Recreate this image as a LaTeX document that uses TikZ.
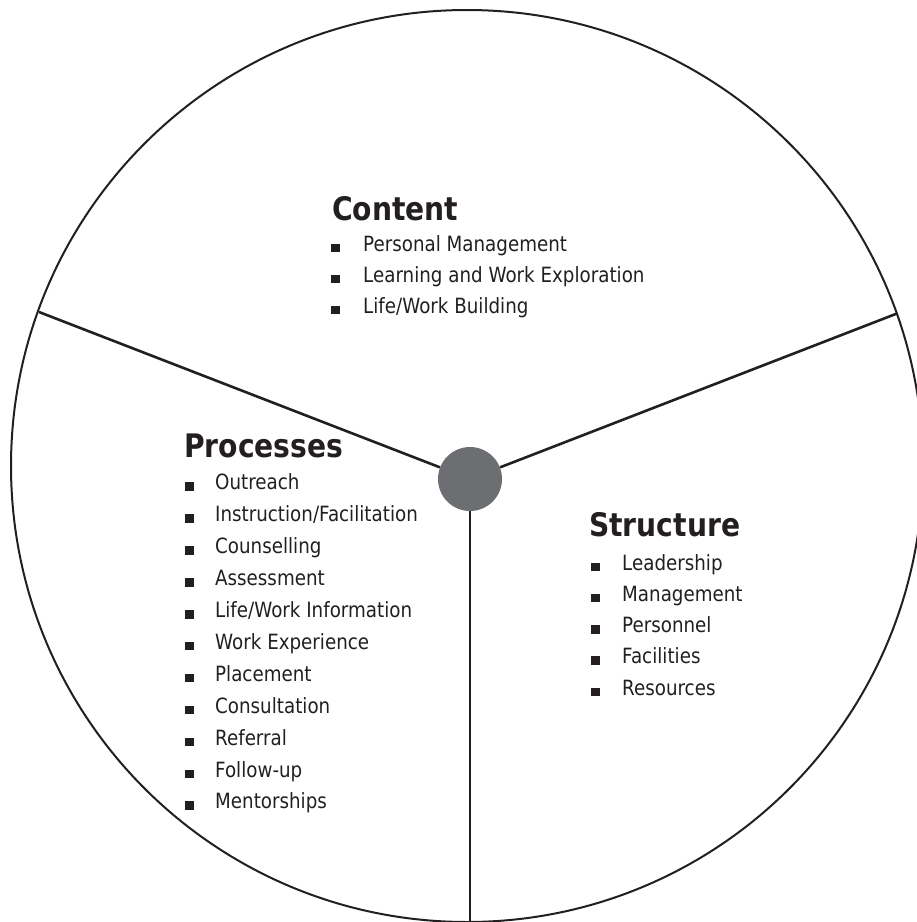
\documentclass[tikz,border=0pt]{standalone}
\usepackage{fontspec}
\setmainfont{DejaVu Sans}[FakeStretch=0.87]
\usepackage{xcolor}
\usepackage{tikz}
\usetikzlibrary{calc,positioning}

\definecolor{inkblack}{RGB}{35,31,32}
\definecolor{hubgray}{RGB}{109,110,113}

\tikzset{
  heading/.style={anchor=base west, inner sep=0pt, text=inkblack,
    font=\fontsize{32.4}{38}\selectfont\bfseries},
  entry/.style={anchor=base west, inner sep=0pt, text=inkblack,
    font=\fontsize{21}{25}\selectfont},
  bulletsq/.style={fill=inkblack},
  divider/.style={draw=inkblack, line width=2.6pt},
}

\begin{document}
\begin{tikzpicture}[x=1pt,y=-1pt]
  \useasboundingbox (0,0) rectangle (917,922);
  \clip (0,0) rectangle (917,922);

% 外側の円
\draw[inkblack, line width=2pt] (467,466) circle[radius=456];

% 中心の円と区切り線
\node[circle, fill=hubgray, minimum size=64pt, inner sep=0pt] (hub) at (470,479) {};
\coordinate (rimL) at (39,312);
\coordinate (rimR) at (897,313.5);
\coordinate (rimB) at (470,930);
\foreach \r in {rimL,rimR,rimB} {
    \draw[divider] (hub) -- (\r);
}

% Content
\node[heading] (content) at (332,220) {Content};
\foreach \t [count=\i] in {{Personal Management},{Learning and Work Exploration},{Life/Work Building}} {
    \node[entry] (content-\i) at ($(content.base west)+(31,31*\i)$) {\t};
    \fill[bulletsq] ($(content-\i.base west)+(-32,1)$) rectangle ++(8.5,-8.5);
}

% Processes
\node[heading] (processes) at (184,457) {Processes};
\foreach \t [count=\i] in {Outreach,{Instruction/Facilitation},Counselling,Assessment,
    {Life/Work Information},{Work Experience},Placement,Consultation,Referral,
    Follow-up,Mentorships} {
    \node[entry] (processes-\i) at ($(processes.base west)+(31,31.9*\i+1)$) {\t};
    \fill[bulletsq] ($(processes-\i.base west)+(-30,1)$) rectangle ++(8.5,-8.5);
}

% Structure
\node[heading] (structure) at (589,536) {Structure};
\foreach \t [count=\i] in {Leadership,Management,Personnel,Facilities,Resources} {
    \node[entry] (structure-\i) at ($(structure.base west)+(33,31.3*\i+2.7)$) {\t};
    \fill[bulletsq] ($(structure-\i.base west)+(-31,1)$) rectangle ++(8.5,-8.5);
}

\end{tikzpicture}
\end{document}
